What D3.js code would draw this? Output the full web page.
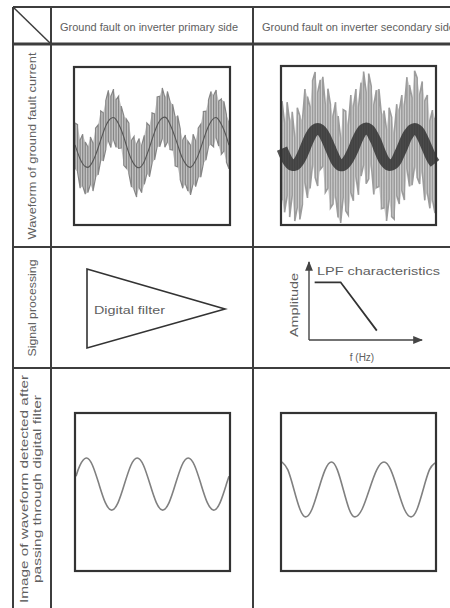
<!DOCTYPE html>
<html lang="en">
<head>
<meta charset="UTF-8">
<title>Ground fault waveforms and digital filtering</title>
<script src="https://cdn.jsdelivr.net/npm/d3@7"></script>
<style>
  body { margin: 0; background: #fff; }
  svg { display: block; font-family: "Liberation Sans", Arial, sans-serif; }
  .grid { stroke: #3d3d3d; stroke-width: 2; fill: none; }
  .frame { stroke: #333; stroke-width: 2.2; fill: none; }
  .lbl { fill: #606060; font-size: 10px; }
</style>
</head>
<body>
<svg id="chart" width="450" height="608"></svg>
<script>
const columnTitles = ["Ground fault on inverter primary side", "Ground fault on inverter secondary side"];
const rowTitles = [
  ["Waveform of ground fault current"],
  ["Signal processing"],
  ["Image of waveform detected after", "passing through digital filter"]
];

// time base in ms, one sample per ms over three mains cycles
const sampleMs = d3.range(0, 61);

// primary side fault: fundamental plus ripple above / below it
const primaryCenter = [
  0.03,-0.16,-0.33,-0.45,-0.52,-0.54,-0.49,-0.38,-0.23,-0.05,0.15,0.34,0.51,0.63,0.70,0.72,0.67,0.56,0.41,0.23,
  0.02,-0.18,-0.34,-0.46,-0.53,-0.55,-0.50,-0.39,-0.22,-0.04,0.16,0.35,0.52,0.64,0.71,0.73,0.68,0.55,0.40,0.22,
  0.03,-0.17,-0.33,-0.44,-0.52,-0.54,-0.48,-0.37,-0.23,-0.05,0.15,0.34,0.50,0.62,0.70,0.72,0.66,0.55,0.41,0.23,0.02
];
const primaryUp = [
  0.55,0.70,0.48,0.75,0.62,0.52,0.72,0.45,0.68,0.58,0.74,0.50,0.64,0.78,0.56,0.72,0.50,0.70,0.60,0.54,
  0.66,0.76,0.48,0.70,0.58,0.74,0.52,0.66,0.80,0.55,0.68,0.46,0.72,0.62,0.76,0.50,0.70,0.58,0.66,0.52,
  0.74,0.60,0.48,0.72,0.64,0.56,0.78,0.50,0.68,0.60,0.72,0.54,0.66,0.76,0.58,0.70,0.48,0.64,0.72,0.56,0.62
];
const primaryDown = [
  0.62,0.50,0.74,0.56,0.70,0.64,0.48,0.76,0.58,0.68,0.52,0.72,0.60,0.50,0.74,0.56,0.70,0.62,0.46,0.72,
  0.58,0.52,0.70,0.64,0.76,0.50,0.68,0.58,0.48,0.74,0.60,0.70,0.54,0.66,0.52,0.76,0.58,0.64,0.50,0.72,
  0.56,0.68,0.74,0.52,0.62,0.70,0.48,0.66,0.56,0.74,0.60,0.70,0.52,0.58,0.72,0.50,0.66,0.76,0.54,0.64,0.60
];

// secondary side fault: heavy switching noise around the fundamental
const secondaryCenter = [
  -0.08,-0.23,-0.36,-0.45,-0.50,-0.50,-0.45,-0.36,-0.23,-0.08,0.08,0.22,0.33,0.40,0.43,0.40,0.33,0.22,0.08,
  -0.07,-0.22,-0.36,-0.46,-0.51,-0.50,-0.44,-0.35,-0.23,-0.09,0.07,0.21,0.33,0.41,0.44,0.41,0.34,0.22,0.09,
  -0.08,-0.24,-0.37,-0.45,-0.50,-0.49,-0.45,-0.36,-0.22,-0.08,0.08,0.22,0.32,0.40,0.43,0.40,0.33,0.21,0.07,
  -0.08,-0.23,-0.36,-0.45
];
const secondaryUp = [
  1.20,0.80,1.45,1.05,1.35,0.70,1.40,1.10,0.85,1.50,1.15,0.75,1.30,1.45,0.90,1.25,1.40,0.80,1.35,1.10,
  0.95,1.45,1.20,0.70,1.40,1.30,0.85,1.50,1.05,1.35,0.75,1.25,1.45,0.90,1.40,1.15,0.80,1.30,1.50,1.00,
  1.25,0.85,1.45,1.20,0.75,1.40,1.10,1.35,0.90,1.50,1.20,0.80,1.45,1.30,0.95,1.40,1.05,1.35,0.85,1.25,1.15
];
const secondaryDown = [
  1.30,1.45,0.90,1.35,0.75,1.40,1.10,1.50,1.25,0.85,1.40,1.30,0.80,1.20,1.45,1.00,0.85,1.40,1.15,1.50,
  1.25,0.90,1.35,1.45,0.80,1.20,1.40,0.95,1.30,0.85,1.45,1.10,0.90,1.40,1.25,0.80,1.45,1.15,0.95,1.35,
  1.20,1.45,0.85,1.30,1.40,0.90,1.25,1.05,1.45,0.80,1.35,1.40,0.95,1.20,1.30,0.85,1.45,1.10,1.35,1.00,1.25
];

// after the digital filter
const primaryFilteredMs = [0,1.5,4,6.5,9,11.5,14,16.5,19,21.5,24,26.5,29,31.5,34,36.5,39,41.5,44,46.5,49,51.5,54,56.5,59,60];
const primaryFiltered = [0.40,0.67,0.86,0.67,0.20,-0.27,-0.46,-0.27,0.20,0.67,0.86,0.67,0.20,-0.27,-0.46,-0.27,0.20,0.67,0.86,0.67,0.20,-0.27,-0.46,-0.27,0.20,0.40];
const secondaryFilteredMs = [0,2.3,4.65,7,9.3,11.8,14.35,16.9,19.4,21.7,24,26.3,28.6,31.45,34.3,37.15,40,42.65,45.3,47.95,50.6,53,55.4,57.8,60];
const secondaryFiltered = [0.76,0.56,0.07,-0.43,-0.63,-0.43,0.07,0.56,0.76,0.56,0.07,-0.43,-0.63,-0.43,0.07,0.56,0.76,0.56,0.07,-0.43,-0.63,-0.43,0.07,0.56,0.74];

// low pass filter sketch (relative frequency / amplitude)
const lpfFreq = [0.05, 0.28, 0.60];
const lpfAmp = [0.74, 0.74, 0.12];

const svg = d3.select("#chart");

// ---- table grid ----
const colX = [13, 51, 253, 450];
const rowY = [7, 44, 247, 368, 608];

const grid = svg.append("g").attr("class", "grid");
rowY.slice(0, 4).forEach((y, i) => {
  grid.append("line").attr("x1", colX[0]).attr("x2", 450).attr("y1", y).attr("y2", y)
    .attr("stroke-width", i === 1 ? 2.8 : 2);
});
[colX[0], colX[1], colX[2]].forEach(x => {
  grid.append("line").attr("x1", x).attr("x2", x).attr("y1", rowY[0]).attr("y2", 608);
});
grid.append("line").attr("x1", colX[0]).attr("y1", rowY[0]).attr("x2", colX[1]).attr("y2", rowY[1]).attr("stroke-width", 1.5);

// column headers
svg.append("text").attr("class", "lbl").attr("x", 60).attr("y", 31)
  .attr("textLength", 178).attr("lengthAdjust", "spacingAndGlyphs").text(columnTitles[0]);
svg.append("text").attr("class", "lbl").attr("x", 262).attr("y", 31)
  .attr("textLength", 193).attr("lengthAdjust", "spacingAndGlyphs").text(columnTitles[1]);

// row headers (rotated)
const rowLabelPos = [
  { cy: 146, lines: [{ x: 32, len: 187 }] },
  { cy: 308, lines: [{ x: 32, len: 97 }] },
  { cy: 489, lines: [{ x: 24, len: 228 }, { x: 37, len: 188 }] }
];
rowTitles.forEach((lines, r) => {
  lines.forEach((txt, k) => {
    const p = rowLabelPos[r].lines[k];
    svg.append("text").attr("class", "lbl")
      .attr("transform", `translate(${p.x},${rowLabelPos[r].cy}) rotate(-90)`)
      .attr("text-anchor", "middle").attr("dy", "0.35em")
      .attr("textLength", p.len).attr("lengthAdjust", "spacingAndGlyphs")
      .text(txt);
  });
});

// ---- waveform panels ----
function panel(box) {
  const x = d3.scaleLinear().domain([0, 60]).range([box.x + 1, box.x + box.w - 1]);
  const y = d3.scaleLinear().domain([-2, 2]).range([box.y + box.h, box.y]);
  const g = svg.append("g");
  g.append("rect").attr("x", box.x).attr("y", box.y).attr("width", box.w).attr("height", box.h).attr("fill", "#fff");
  return { x, y, g, box };
}
function frame(p) {
  p.g.append("rect").attr("class", "frame")
    .attr("x", p.box.x).attr("y", p.box.y).attr("width", p.box.w).attr("height", p.box.h);
}
const hiOf = (c, u, i) => Math.min(c[i] + u[i], 1.95);
const loOf = (c, d, i) => Math.max(c[i] - d[i], -1.95);

function noisyBand(p, center, up, down, fill, stroke, width) {
  p.g.append("path").datum(sampleMs)
    .attr("d", d3.area().x(t => p.x(t))
      .y0((t, i) => p.y(loOf(center, down, i)))
      .y1((t, i) => p.y(hiOf(center, up, i))))
    .attr("fill", fill);
  const path = d3.path();
  sampleMs.forEach((t, i) => {
    const hi = hiOf(center, up, i), lo = loOf(center, down, i);
    const a = i % 2 ? hi : lo, b = i % 2 ? lo : hi;
    if (i === 0) path.moveTo(p.x(t), p.y(a)); else path.lineTo(p.x(t), p.y(a));
    path.lineTo(p.x(t), p.y(b));
  });
  p.g.append("path").attr("d", path.toString())
    .attr("fill", "none").attr("stroke", stroke).attr("stroke-width", width);
}

const p1 = panel({ x: 74, y: 67, w: 156, h: 158 });
noisyBand(p1, primaryCenter, primaryUp, primaryDown, "#c2c2c2", "#858585", 1.2);
p1.g.append("path").datum(sampleMs)
  .attr("d", d3.line().x(t => p1.x(t)).y((t, i) => p1.y(primaryCenter[i])).curve(d3.curveMonotoneX))
  .attr("fill", "none").attr("stroke", "#555").attr("stroke-width", 1.1);
frame(p1);

const p2 = panel({ x: 281, y: 66, w: 155, h: 159 });
noisyBand(p2, secondaryCenter, secondaryUp, secondaryDown, "#d2d2d2", "#9c9c9c", 1.6);
p2.g.append("path").datum(sampleMs)
  .attr("d", d3.line().x(t => p2.x(t)).y((t, i) => p2.y(secondaryCenter[i])).curve(d3.curveMonotoneX))
  .attr("fill", "none").attr("stroke", "#2e2e2e").attr("stroke-opacity", 0.82).attr("stroke-width", 11);
frame(p2);

const p3 = panel({ x: 75, y: 413, w: 155, h: 158 });
p3.g.append("path").datum(primaryFilteredMs)
  .attr("d", d3.line().x(t => p3.x(t)).y((t, i) => p3.y(primaryFiltered[i])).curve(d3.curveNatural))
  .attr("fill", "none").attr("stroke", "#808080").attr("stroke-width", 1.6);
frame(p3);

const p4 = panel({ x: 281, y: 413, w: 155, h: 158 });
p4.g.append("path").datum(secondaryFilteredMs)
  .attr("d", d3.line().x(t => p4.x(t)).y((t, i) => p4.y(secondaryFiltered[i])).curve(d3.curveNatural))
  .attr("fill", "none").attr("stroke", "#808080").attr("stroke-width", 1.6);
frame(p4);

// ---- signal processing row ----
svg.append("path")
  .attr("d", d3.line()([[87, 269], [225, 309], [87, 348]]) + "Z")
  .attr("fill", "none").attr("stroke", "#333").attr("stroke-width", 1.6);
svg.append("text").attr("class", "lbl").attr("x", 94).attr("y", 314)
  .attr("font-size", 11).attr("textLength", 71).attr("lengthAdjust", "spacingAndGlyphs").text("Digital filter");

const defs = svg.append("defs");
defs.append("marker").attr("id", "arrow").attr("viewBox", "0 0 10 10")
  .attr("refX", 9).attr("refY", 5).attr("markerWidth", 7).attr("markerHeight", 7)
  .attr("orient", "auto-start-reverse")
  .append("path").attr("d", "M0,1 L10,5 L0,9 Z").attr("fill", "#444");

const fx = d3.scaleLinear().domain([0, 1]).range([309, 422]);
const fy = d3.scaleLinear().domain([0, 1]).range([340, 262]);
svg.append("line").attr("x1", fx(0)).attr("y1", fy(0)).attr("x2", fx(0)).attr("y2", fy(1))
  .attr("stroke", "#444").attr("stroke-width", 1.4).attr("marker-end", "url(#arrow)");
svg.append("line").attr("x1", fx(0)).attr("y1", fy(0)).attr("x2", fx(1)).attr("y2", fy(0))
  .attr("stroke", "#444").attr("stroke-width", 1.4).attr("marker-end", "url(#arrow)");
svg.append("path").datum(lpfFreq)
  .attr("d", d3.line().x(f => fx(f)).y((f, i) => fy(lpfAmp[i])))
  .attr("fill", "none").attr("stroke", "#333").attr("stroke-width", 1.8);

svg.append("text").attr("class", "lbl").attr("x", 317).attr("y", 275)
  .attr("font-size", 12).attr("textLength", 123).attr("lengthAdjust", "spacingAndGlyphs").text("LPF characteristics");
svg.append("text").attr("class", "lbl")
  .attr("transform", "translate(294,305) rotate(-90)")
  .attr("text-anchor", "middle").attr("dy", "0.35em")
  .attr("textLength", 64).attr("lengthAdjust", "spacingAndGlyphs").text("Amplitude");
svg.append("text").attr("class", "lbl").attr("x", 362).attr("y", 361)
  .attr("text-anchor", "middle").text("f (Hz)");
</script>
</body>
</html>
